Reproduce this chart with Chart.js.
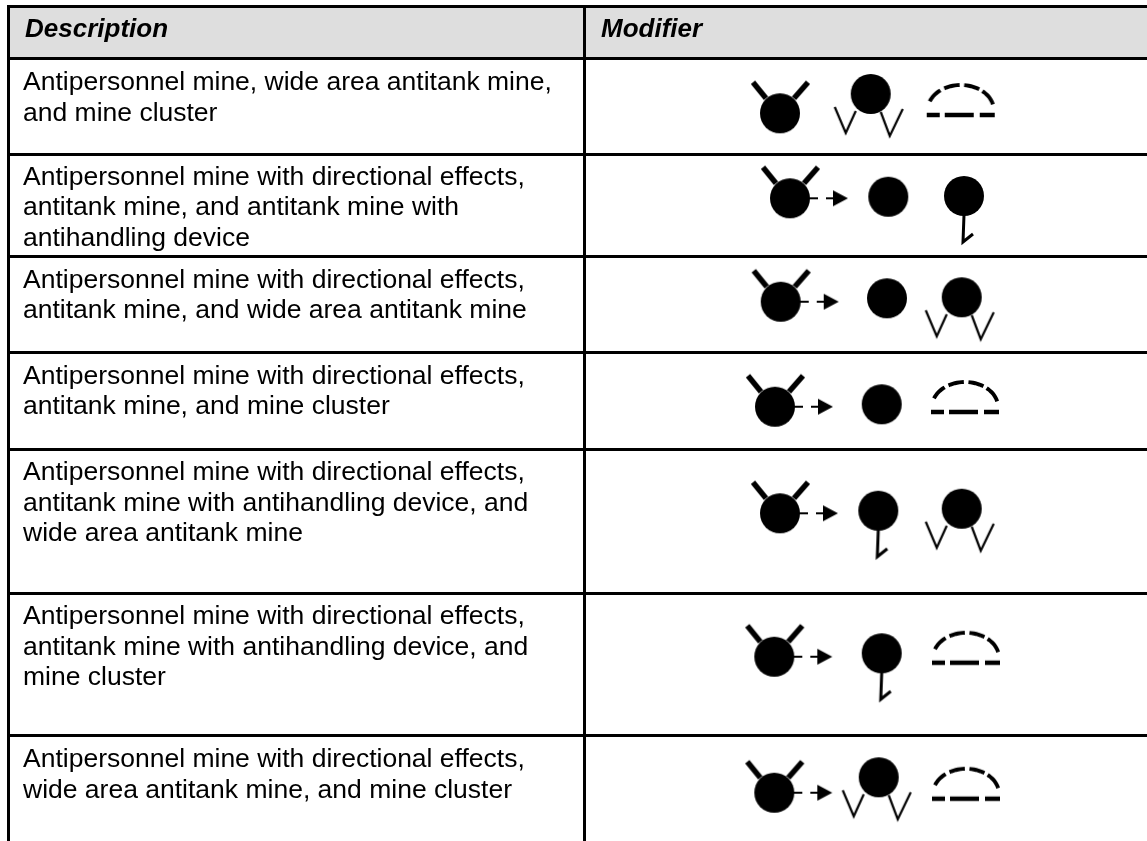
<!DOCTYPE html>
<html>
<head>
<meta charset="utf-8">
<title>Minefield modifiers</title>
<script src="https://cdn.jsdelivr.net/npm/chart.js@4"></script>
<style>
    html, body { margin: 0; padding: 0; background: #fff; overflow: hidden; }
    canvas { display: block; }
</style>
</head>
<body>
<canvas id="chart" width="1147" height="841"></canvas>
<script>
const headers = ["Description", "Modifier"];
const descriptions = [
    ["Antipersonnel mine, wide area antitank mine,", "and mine cluster"],
    ["Antipersonnel mine with directional effects,", "antitank mine, and antitank mine with", "antihandling device"],
    ["Antipersonnel mine with directional effects,", "antitank mine, and wide area antitank mine"],
    ["Antipersonnel mine with directional effects,", "antitank mine, and mine cluster"],
    ["Antipersonnel mine with directional effects,", "antitank mine with antihandling device, and", "wide area antitank mine"],
    ["Antipersonnel mine with directional effects,", "antitank mine with antihandling device, and", "mine cluster"],
    ["Antipersonnel mine with directional effects,", "wide area antitank mine, and mine cluster"]
];

// grid lines of the table, in the axis units of the chart
const rowEdges = [6.5, 58.5, 154.5, 256.5, 352.5, 449, 593, 735.5];
const columnEdges = [8.5, 584.5];
const headerBaseline = 37;
const firstBaselines = [90, 184.5, 287.5, 383.5, 480, 624, 767];
const lineStep = 30.7;
const textColumns = [23, 601];

// symbol centres, one pair of lists per symbol
const prongX = [780];
const prongY = [113.3];
const prongArrowX = [790, 780.7, 775, 780, 774.3, 774.3];
const prongArrowY = [198.3, 301.7, 406.7, 513.3, 656.7, 792.7];
const plainX = [888.3, 887, 881.7];
const plainY = [196.7, 298.3, 404.3];
const wideX = [870.7, 961.7, 961.7, 878.7];
const wideY = [94, 297.3, 508.7, 777.3];
const handlingX = [964, 878.3, 881.7];
const handlingY = [196, 510.7, 653.3];
const clusterX = [960.7, 965, 966, 966];
const clusterY = [115, 412, 662.7, 798.7];

function points(xs, ys) {
    return xs.map((x, i) => ({ x: x, y: ys[i] }));
}

function makeSymbol(draw) {
    const c = document.createElement("canvas");
    c.width = 140;
    c.height = 130;
    const g = c.getContext("2d");
    g.translate(70, 65);
    g.fillStyle = "#000";
    g.strokeStyle = "#000";
    draw(g);
    return c;
}

function line(g, width, pts) {
    g.lineWidth = width;
    g.beginPath();
    pts.forEach((p, i) => i ? g.lineTo(p[0], p[1]) : g.moveTo(p[0], p[1]));
    g.stroke();
}

function disc(g) {
    g.beginPath();
    g.arc(0, 0, 20, 0, Math.PI * 2);
    g.fill();
}

function prongs(g) {
    disc(g);
    line(g, 5.5, [[-14, -15], [-27, -31]]);
    line(g, 5.5, [[14, -15], [28, -31]]);
}

function arrow(g) {
    line(g, 2, [[19, 0], [28, 0]]);
    line(g, 2, [[36, 0], [44, 0]]);
    g.beginPath();
    g.moveTo(43, -8);
    g.lineTo(58, 0);
    g.lineTo(43, 8);
    g.closePath();
    g.fill();
}

function wide(g) {
    disc(g);
    line(g, 2.2, [[-36, 13], [-25, 39], [-15, 17]]);
    line(g, 2.2, [[10, 18], [19, 42], [32, 15]]);
}

function handling(g) {
    disc(g);
    line(g, 3, [[0, 19], [-1, 46], [9, 38]]);
}

function cluster(g) {
    [[-70, -38], [-30, -2], [6, 34], [41, 78]].forEach(s => {
        const arc = [];
        for (let t = s[0]; t <= s[1]; t += 4) {
            const a = t * Math.PI / 180;
            arc.push([33 * Math.sin(a), -5 - 25 * Math.cos(a)]);
        }
        line(g, 3.9, arc);
    });
    line(g, 4.5, [[-34, 0], [-21, 0]]);
    line(g, 4.5, [[-16, 0], [13, 0]]);
    line(g, 4.5, [[19, 0], [34, 0]]);
}

function symbolSet(xs, ys, draw) {
    return {
        data: points(xs, ys),
        pointStyle: makeSymbol(draw),
        showLine: false,
        clip: false
    };
}

const tablePlugin = {
    id: "tablePlugin",
    beforeDraw(chart) {
        const { ctx, chartArea } = chart;
        const y = chart.scales.y;
        ctx.save();
        ctx.fillStyle = "#dedede";
        ctx.fillRect(chartArea.left, y.getPixelForValue(rowEdges[0]),
            chartArea.width, y.getPixelForValue(rowEdges[1]) - y.getPixelForValue(rowEdges[0]));
        ctx.restore();
    },
    afterDraw(chart) {
        const { ctx } = chart;
        const x = chart.scales.x;
        const y = chart.scales.y;
        ctx.save();
        ctx.fillStyle = "#000";
        ctx.textBaseline = "alphabetic";
        ctx.font = "italic bold 26px 'Liberation Sans'";
        headers.forEach((h, i) => {
            ctx.fillText(h, x.getPixelForValue(textColumns[i]) + (i ? 0 : 2), y.getPixelForValue(headerBaseline));
        });
        ctx.font = "26.5px 'Liberation Sans'";
        descriptions.forEach((lines, r) => {
            lines.forEach((t, i) => {
                ctx.fillText(t, x.getPixelForValue(textColumns[0]),
                    y.getPixelForValue(firstBaselines[r] + i * lineStep));
            });
        });
        ctx.restore();
    }
};

new Chart(document.getElementById("chart"), {
    type: "scatter",
    data: {
        datasets: [
            symbolSet(prongX, prongY, prongs),
            symbolSet(prongArrowX, prongArrowY, g => { prongs(g); arrow(g); }),
            symbolSet(plainX, plainY, disc),
            symbolSet(wideX, wideY, wide),
            symbolSet(handlingX, handlingY, handling),
            symbolSet(clusterX, clusterY, cluster)
        ]
    },
    options: {
        responsive: false,
        animation: false,
        events: [],
        layout: { autoPadding: false, padding: { left: 7, top: 5, right: 0, bottom: 0 } },
        plugins: { legend: { display: false }, tooltip: { enabled: false } },
        scales: {
            x: {
                type: "linear",
                min: 7,
                max: 1147,
                afterBuildTicks: axis => { axis.ticks = columnEdges.map(v => ({ value: v })); },
                ticks: { display: false, autoSkip: false },
                grid: { color: "#000", lineWidth: 3, drawTicks: false },
                border: { display: false }
            },
            y: {
                type: "linear",
                reverse: true,
                min: 5,
                max: 841,
                afterBuildTicks: axis => { axis.ticks = rowEdges.map(v => ({ value: v })); },
                ticks: { display: false, autoSkip: false },
                grid: { color: "#000", lineWidth: 3, drawTicks: false },
                border: { display: false }
            }
        }
    },
    plugins: [tablePlugin]
});
</script>
</body>
</html>
